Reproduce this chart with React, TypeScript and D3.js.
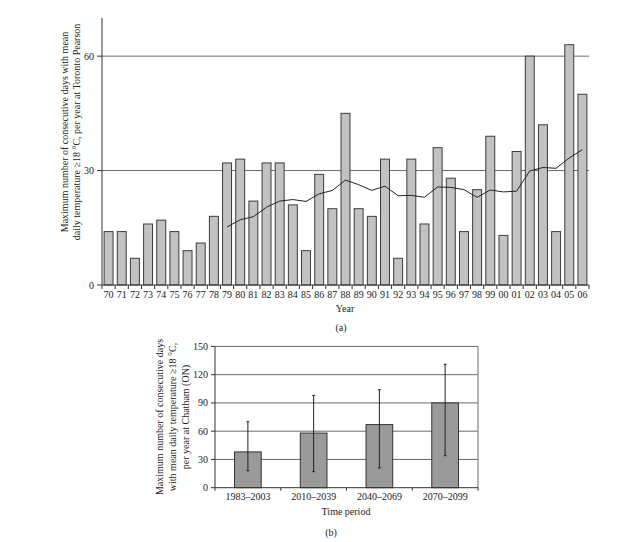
import React from "react";
import * as d3 from "d3";

const years = ["70","71","72","73","74","75","76","77","78","79","80","81","82","83","84","85","86","87","88","89","90","91","92","93","94","95","96","97","98","99","00","01","02","03","04","05","06"];
const daysToronto = [14,14,7,16,17,14,9,11,18,32,33,22,32,32,21,9,29,20,45,20,18,33,7,33,16,36,28,14,25,39,13,35,60,42,14,63,50];
const trendYears = ["79","80","81","82","83","84","85","86","87","88","89","90","91","92","93","94","95","96","97","98","99","00","01","02","03","04","05","06"];
const trendValues = [15.2,17.1,17.9,20.4,22.0,22.4,21.9,23.9,24.8,27.5,26.3,24.8,25.9,23.4,23.5,23.0,25.7,25.6,25.0,23.0,24.9,24.4,24.6,29.9,30.8,30.6,33.3,35.5];
const topTicks = [0, 30, 60];

const periods = ["1983–2003", "2010–2039", "2040–2069", "2070–2099"];
const daysChatham = [38, 58, 67, 90];
const errLow = [18, 17, 21, 34];
const errHigh = [70, 98, 104, 131];
const bottomTicks = [0, 30, 60, 90, 120, 150];

const FONT = "'Liberation Serif', 'DejaVu Serif', serif";

export default function App() {
  // Top chart
  const tx = d3.scaleBand<string>().domain(years).range([102, 589]).paddingInner(0.32).paddingOuter(0.16);
  const ty = d3.scaleLinear().domain([0, 70]).range([285, 18]);
  const step = tx.step();
  const line = d3.line<number>()
    .x((_, i) => (tx(trendYears[i]) as number) + tx.bandwidth() / 2)
    .y((d) => ty(d));

  // Bottom chart
  const bx = d3.scaleBand<string>().domain(periods).range([215, 478]).paddingInner(0.594).paddingOuter(0.297);
  const by = d3.scaleLinear().domain([0, 150]).range([487.7, 346.4]);
  const bstep = bx.step();

  return (
    <svg width={632} height={542} style={{ position: "absolute", left: 0, top: 0, background: "#fff" }} fontFamily={FONT}>
      {/* ===== Top chart ===== */}
      {topTicks.filter((t) => t > 0).map((t) => (
        <line key={"g" + t} x1={102} x2={589} y1={ty(t)} y2={ty(t)} stroke="#6a6a6a" strokeWidth={1} />
      ))}
      {years.map((yr, i) => (
        <rect key={yr} x={tx(yr)} y={ty(daysToronto[i])} width={tx.bandwidth()} height={ty(0) - ty(daysToronto[i])}
          fill="#c2c2c2" stroke="#3c3c3c" strokeWidth={1} />
      ))}
      <path d={line(trendValues) || ""} fill="none" stroke="#222" strokeWidth={1} />
      <line x1={102} x2={102} y1={18} y2={285} stroke="#333" />
      <line x1={102} x2={589} y1={285} y2={285} stroke="#333" />
      {topTicks.map((t) => (
        <g key={"yt" + t}>
          <line x1={97} x2={102} y1={ty(t)} y2={ty(t)} stroke="#333" />
          <text x={94} y={ty(t)} dy="0.35em" textAnchor="end" fontSize={10} fill="#222">{t}</text>
        </g>
      ))}
      {d3.range(years.length + 1).map((i) => (
        <line key={"xt" + i} x1={102 + i * step} x2={102 + i * step} y1={285} y2={289} stroke="#333" />
      ))}
      {years.map((yr) => (
        <text key={"xl" + yr} x={(tx(yr) as number) + tx.bandwidth() / 2} y={298} textAnchor="middle" fontSize={10} fill="#222">{yr}</text>
      ))}
      <text x={345} y={312} textAnchor="middle" fontSize={10} fill="#222">Year</text>
      <text transform="translate(68,132) rotate(-90)" textAnchor="middle" fontSize={10} fill="#222">
        Maximum number of consecutive days with mean
      </text>
      <text transform="translate(80,132) rotate(-90)" textAnchor="middle" fontSize={10} fill="#222">
        daily temperature ≥18 °C, per year at Toronto Pearson
      </text>
      <text x={341} y={331} textAnchor="middle" fontSize={10} fill="#222">(a)</text>

      {/* ===== Bottom chart ===== */}
      {bottomTicks.filter((t) => t > 0).map((t) => (
        <line key={"bg" + t} x1={215} x2={478} y1={by(t)} y2={by(t)} stroke="#6a6a6a" strokeWidth={1} />
      ))}
      <line x1={478} x2={478} y1={by(150)} y2={by(0)} stroke="#6a6a6a" />
      {periods.map((p, i) => {
        const cx = (bx(p) as number) + bx.bandwidth() / 2;
        return (
          <g key={p}>
            <rect x={bx(p)} y={by(daysChatham[i])} width={bx.bandwidth()} height={by(0) - by(daysChatham[i])}
              fill="#9a9a9a" stroke="#333" strokeWidth={1} />
            <line x1={cx} x2={cx} y1={by(errHigh[i])} y2={by(errLow[i])} stroke="#222" />
            <line x1={cx - 1.5} x2={cx + 1.5} y1={by(errHigh[i])} y2={by(errHigh[i])} stroke="#222" />
            <line x1={cx - 1.5} x2={cx + 1.5} y1={by(errLow[i])} y2={by(errLow[i])} stroke="#222" />
          </g>
        );
      })}
      <line x1={215} x2={215} y1={by(150)} y2={by(0)} stroke="#333" />
      <line x1={215} x2={478} y1={by(0)} y2={by(0)} stroke="#333" />
      {bottomTicks.map((t) => (
        <g key={"byt" + t}>
          <line x1={211} x2={215} y1={by(t)} y2={by(t)} stroke="#333" />
          <text x={208} y={by(t)} dy="0.35em" textAnchor="end" fontSize={10} fill="#222">{t}</text>
        </g>
      ))}
      {d3.range(periods.length + 1).map((i) => (
        <line key={"bxt" + i} x1={215 + i * bstep} x2={215 + i * bstep} y1={by(0)} y2={by(0) + 3} stroke="#333" />
      ))}
      {periods.map((p) => (
        <text key={"bxl" + p} x={(bx(p) as number) + bx.bandwidth() / 2} y={500} textAnchor="middle" fontSize={10} fill="#222">{p}</text>
      ))}
      <text x={346} y={515} textAnchor="middle" fontSize={10} fill="#222">Time period</text>
      <text transform="translate(163,417) rotate(-90)" textAnchor="middle" fontSize={10} fill="#222">
        Maximum number of consecutive days
      </text>
      <text transform="translate(176,417) rotate(-90)" textAnchor="middle" fontSize={10} fill="#222">
        with mean daily temperature ≥18 °C,
      </text>
      <text transform="translate(189,417) rotate(-90)" textAnchor="middle" fontSize={10} fill="#222">
        per year at Chatham (ON)
      </text>
      <text x={331} y={536} textAnchor="middle" fontSize={10} fill="#222">(b)</text>
    </svg>
  );
}
